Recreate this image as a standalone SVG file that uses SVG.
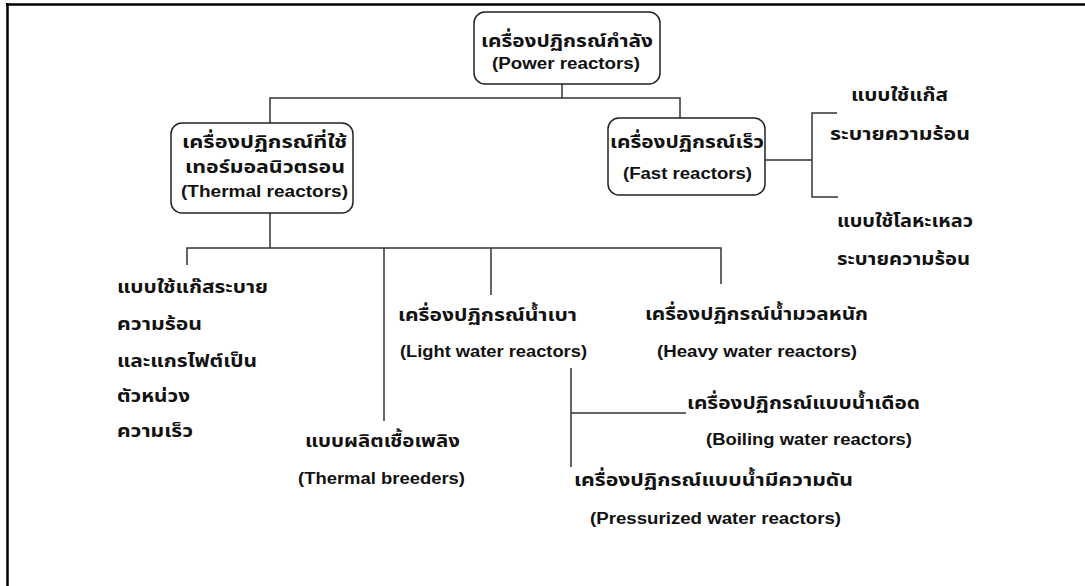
<svg xmlns="http://www.w3.org/2000/svg" width="1085" height="586" viewBox="0 0 1085 586">
<style>
.bg{fill:#ffffff}
.frame{stroke:#000;stroke-width:2.5;fill:none}
.box{fill:#fff;stroke:#222;stroke-width:1.5}
.ln{stroke:#333;stroke-width:1.5;fill:none}
.th{font-family:"Noto Sans Thai","Noto Sans Thai UI","Loma","Garuda","Tlwg Typo","DejaVu Sans",sans-serif;font-size:18px;font-weight:bold;fill:#111}
.en{font-family:"Liberation Sans",Arial,sans-serif;font-size:16px;font-weight:bold;fill:#111}
</style>
<rect class="bg" x="0" y="0" width="1085" height="586"/>
<g id="frame">
<line class="frame" x1="6" y1="4.5" x2="1085" y2="4.5"/>
<line class="frame" x1="7.5" y1="3" x2="7.5" y2="586"/>
</g>
<g id="connectors">
<polyline class="ln" points="562,84 562,98"/>
<polyline class="ln" points="270,123 270,98 680,98 680,118"/>
<polyline class="ln" points="765,160 812,160"/>
<polyline class="ln" points="837,113 812,113 812,197 838,197"/>
<polyline class="ln" points="270,213 270,248"/>
<polyline class="ln" points="187,265 187,248 721,248 721,284"/>
<polyline class="ln" points="384,248 384,421"/>
<polyline class="ln" points="491,248 491,295"/>
<polyline class="ln" points="571,368 571,467"/>
<polyline class="ln" points="571,413 686,413"/>
</g>
<g id="power">
<rect class="box" x="474" y="12" width="186" height="72" rx="11"/>
<text class="th" x="481" y="47" textLength="172" lengthAdjust="spacingAndGlyphs">เครื่องปฏิกรณ์กำลัง</text>
<text class="en" x="492" y="69" textLength="148" lengthAdjust="spacingAndGlyphs">(Power reactors)</text>
</g>
<g id="thermal">
<rect class="box" x="171" y="123" width="182" height="90" rx="11"/>
<text class="th" x="182" y="148" textLength="165" lengthAdjust="spacingAndGlyphs">เครื่องปฏิกรณ์ที่ใช้</text>
<text class="th" x="185" y="173" textLength="160" lengthAdjust="spacingAndGlyphs">เทอร์มอลนิวตรอน</text>
<text class="en" x="181" y="197" textLength="167" lengthAdjust="spacingAndGlyphs">(Thermal reactors)</text>
</g>
<g id="fast">
<rect class="box" x="608" y="118" width="157" height="77" rx="11"/>
<text class="th" x="610" y="148" textLength="154" lengthAdjust="spacingAndGlyphs">เครื่องปฏิกรณ์เร็ว</text>
<text class="en" x="623" y="179" textLength="129" lengthAdjust="spacingAndGlyphs">(Fast reactors)</text>
</g>
<g id="gas-cooled-fast">
<text class="th" x="851" y="101" textLength="97" lengthAdjust="spacingAndGlyphs">แบบใช้แก๊ส</text>
<text class="th" x="830" y="140" textLength="140" lengthAdjust="spacingAndGlyphs">ระบายความร้อน</text>
</g>
<g id="liquid-metal-fast">
<text class="th" x="837" y="227" textLength="136" lengthAdjust="spacingAndGlyphs">แบบใช้โลหะเหลว</text>
<text class="th" x="837" y="265" textLength="133" lengthAdjust="spacingAndGlyphs">ระบายความร้อน</text>
</g>
<g id="gas-graphite">
<text class="th" x="117" y="293" textLength="151" lengthAdjust="spacingAndGlyphs">แบบใช้แก๊สระบาย</text>
<text class="th" x="117" y="330" textLength="85" lengthAdjust="spacingAndGlyphs">ความร้อน</text>
<text class="th" x="117" y="367" textLength="140" lengthAdjust="spacingAndGlyphs">และแกรไฟต์เป็น</text>
<text class="th" x="117" y="402" textLength="73" lengthAdjust="spacingAndGlyphs">ตัวหน่วง</text>
<text class="th" x="117" y="437" textLength="76" lengthAdjust="spacingAndGlyphs">ความเร็ว</text>
</g>
<g id="breeders">
<text class="th" x="305" y="447" textLength="155" lengthAdjust="spacingAndGlyphs">แบบผลิตเชื้อเพลิง</text>
<text class="en" x="298" y="484" textLength="167" lengthAdjust="spacingAndGlyphs">(Thermal breeders)</text>
</g>
<g id="light">
<text class="th" x="398" y="321" textLength="179" lengthAdjust="spacingAndGlyphs">เครื่องปฏิกรณ์น้ำเบา</text>
<text class="en" x="400" y="357" textLength="187" lengthAdjust="spacingAndGlyphs">(Light water reactors)</text>
</g>
<g id="heavy">
<text class="th" x="645" y="320" textLength="223" lengthAdjust="spacingAndGlyphs">เครื่องปฏิกรณ์น้ำมวลหนัก</text>
<text class="en" x="657" y="357" textLength="200" lengthAdjust="spacingAndGlyphs">(Heavy water reactors)</text>
</g>
<g id="boiling">
<text class="th" x="687" y="409" textLength="233" lengthAdjust="spacingAndGlyphs">เครื่องปฏิกรณ์แบบน้ำเดือด</text>
<text class="en" x="706" y="445" textLength="206" lengthAdjust="spacingAndGlyphs">(Boiling water reactors)</text>
</g>
<g id="pressurized">
<text class="th" x="574" y="486" textLength="279" lengthAdjust="spacingAndGlyphs">เครื่องปฏิกรณ์แบบน้ำมีความดัน</text>
<text class="en" x="590" y="524" textLength="251" lengthAdjust="spacingAndGlyphs">(Pressurized water reactors)</text>
</g>
</svg>
